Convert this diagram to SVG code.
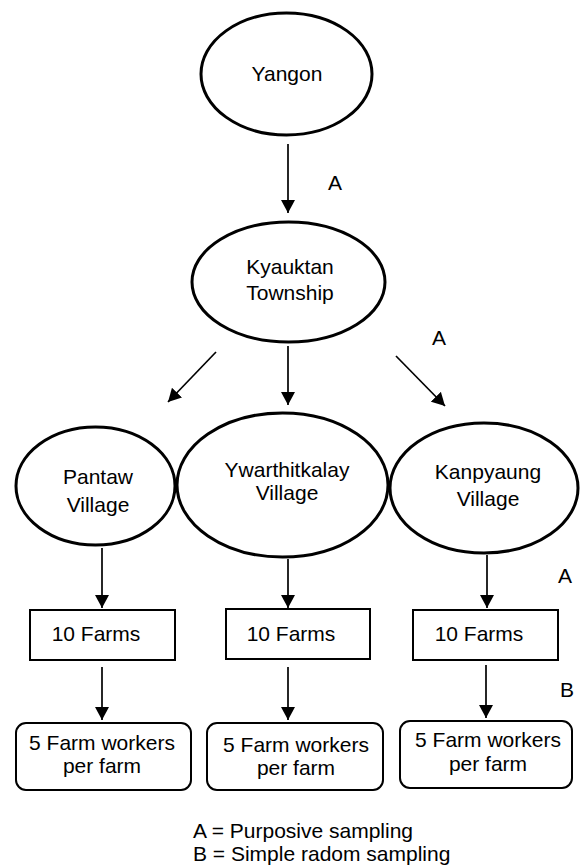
<svg xmlns="http://www.w3.org/2000/svg" width="580" height="867" viewBox="0 0 580 867">
<defs>
<marker id="ah" viewBox="0 0 13 14" refX="13" refY="7" markerWidth="13" markerHeight="14" markerUnits="userSpaceOnUse" orient="auto">
<path d="M0,0 L13,7 L0,14 Z" fill="#000"/>
</marker>
<style>
text{font-family:"Liberation Sans",Arial,sans-serif;font-size:21px;fill:#000;text-anchor:middle}
.ell{fill:#fff;stroke:#000;stroke-width:3}
.box{fill:#fff;stroke:#000;stroke-width:2}
.arr{stroke:#000;stroke-width:1.7;fill:none;marker-end:url(#ah)}
.lab{text-anchor:start}
</style>
</defs>
<rect width="580" height="867" fill="#fff"/>
<g id="connectors">
<line class="arr" x1="288" y1="144" x2="288" y2="213"/>
<line class="arr" x1="216" y1="352" x2="168" y2="402"/>
<line class="arr" x1="288" y1="346" x2="288" y2="405"/>
<line class="arr" x1="396" y1="356" x2="445" y2="406"/>
<line class="arr" x1="102" y1="548" x2="102" y2="608"/>
<line class="arr" x1="288" y1="559" x2="288" y2="608"/>
<line class="arr" x1="487" y1="555" x2="487" y2="608"/>
<line class="arr" x1="102" y1="667" x2="102" y2="720"/>
<line class="arr" x1="288" y1="667" x2="288" y2="720"/>
<line class="arr" x1="486" y1="665" x2="486" y2="718"/>
</g>
<g id="labels">
<text class="lab" x="432" y="345">A</text>
<text class="lab" x="328" y="190">A</text>
<text class="lab" x="558" y="583">A</text>
<text class="lab" x="560" y="697">B</text>
</g>
<g id="yangon">
<ellipse class="ell" cx="286.5" cy="74" rx="85.5" ry="61"/>
<text x="287" y="81">Yangon</text>
</g>
<g id="kyauktan">
<ellipse class="ell" cx="288.5" cy="282" rx="96.5" ry="60"/>
<text x="290" y="274">Kyauktan</text>
<text x="290" y="300">Township</text>
</g>
<g id="pantaw">
<ellipse class="ell" cx="95.5" cy="486" rx="79.5" ry="59"/>
<text x="98" y="484">Pantaw</text>
<text x="98" y="512">Village</text>
</g>
<g id="ywarthitkalay">
<ellipse class="ell" cx="282.5" cy="485" rx="105.5" ry="72"/>
<text x="287" y="477">Ywarthitkalay</text>
<text x="287" y="500">Village</text>
</g>
<g id="kanpyaung">
<ellipse class="ell" cx="484" cy="488" rx="94" ry="65"/>
<text x="488" y="479">Kanpyaung</text>
<text x="488" y="506">Village</text>
</g>
<g id="farms1">
<rect class="box" x="30" y="610" width="145" height="50"/>
<text x="96" y="641">10 Farms</text>
</g>
<g id="farms2">
<rect class="box" x="226" y="609" width="144" height="50"/>
<text x="291" y="641">10 Farms</text>
</g>
<g id="farms3">
<rect class="box" x="413" y="610" width="145" height="50"/>
<text x="479" y="641">10 Farms</text>
</g>
<g id="workers1">
<rect class="box" x="16" y="723" width="175" height="67" rx="10"/>
<text x="102" y="750">5 Farm workers</text>
<text x="102" y="773">per farm</text>
</g>
<g id="workers2">
<rect class="box" x="207" y="723" width="176" height="67" rx="10"/>
<text x="296" y="752">5 Farm workers</text>
<text x="296" y="775">per farm</text>
</g>
<g id="workers3">
<rect class="box" x="400" y="721" width="172" height="67" rx="10"/>
<text x="488" y="747">5 Farm workers</text>
<text x="488" y="771">per farm</text>
</g>
<g id="legend">
<text class="lab" x="193" y="838">A = Purposive sampling</text>
<text class="lab" x="193" y="861">B = Simple radom sampling</text>
</g>
</svg>
